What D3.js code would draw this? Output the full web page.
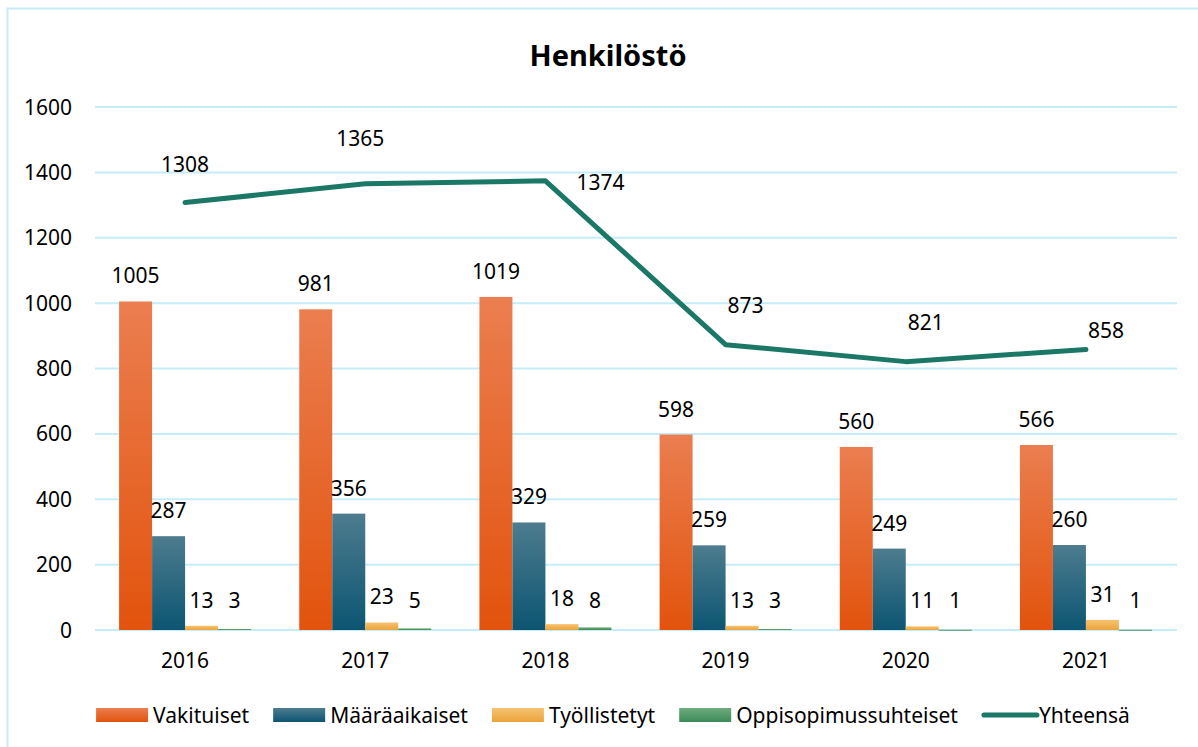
<html>
<head>
<meta charset="utf-8">
<script src="https://d3js.org/d3.v7.min.js"></script>
<style>
body { margin: 0; background: #fff; }
text { font-family: "Noto Sans", sans-serif; fill: #000; }
.grid line { stroke: #c5ecf9; stroke-width: 2; }
</style>
</head>
<body>
<svg width="1198" height="747"></svg>
<script>
// data
var years = ["2016", "2017", "2018", "2019", "2020", "2021"];
var vakituiset = [1005, 981, 1019, 598, 560, 566];
var maaraaikaiset = [287, 356, 329, 259, 249, 260];
var tyollistetyt = [13, 23, 18, 13, 11, 31];
var oppisopimus = [3, 5, 8, 3, 1, 1];
var yhteensa = [1308, 1365, 1374, 873, 821, 858];
var yTicks = [0, 200, 400, 600, 800, 1000, 1200, 1400, 1600];
var barNames = ["Vakituiset", "Määräaikaiset", "Työllistetyt", "Oppisopimussuhteiset"];
var lineName = "Yhteensä";
var totalLabelPlace = ["above", "high", "right", "aboveRight", "aboveRight", "upRight"];

var barSeries = [vakituiset, maaraaikaiset, tyollistetyt, oppisopimus];
var gradColors = [["#eb7e50", "#e2530d"], ["#4d7c8e", "#0c5572"], ["#f6c372", "#eba33c"], ["#6eab7e", "#3d8a58"]];
var lineColor = "#1b7866";

var svg = d3.select("svg");

// gradients
var defs = svg.append("defs");
gradColors.forEach(function(c, i) {
  var g = defs.append("linearGradient").attr("id", "g" + i)
    .attr("x1", 0).attr("y1", 0).attr("x2", 0).attr("y2", 1);
  g.append("stop").attr("offset", "0%").attr("stop-color", c[0]);
  g.append("stop").attr("offset", "100%").attr("stop-color", c[1]);
});

// chart border
svg.append("rect").attr("x", 7.5).attr("y", 8.5).attr("width", 1220).attr("height", 760)
  .attr("fill", "none").attr("stroke", "#c5ecf9").attr("stroke-width", 2);

var x = d3.scaleBand().domain(years).range([95, 1176]);
var x1 = d3.scaleBand().domain(d3.range(barSeries.length)).range([0, x.bandwidth()]).paddingOuter(0.73);
var y = d3.scaleLinear().domain([0, 1600]).range([630, 107]);

// title
svg.append("text").attr("x", 608).attr("y", 66).attr("text-anchor", "middle")
  .style("font-size", "29px").style("font-weight", "bold").text("Henkilöstö");

// grid
svg.append("g").attr("class", "grid").selectAll("line").data(yTicks).enter().append("line")
  .attr("x1", 95).attr("x2", 1177)
  .attr("y1", function(d) { return y(d); }).attr("y2", function(d) { return y(d); });

// y axis labels
svg.append("g").selectAll("text").data(yTicks).enter().append("text")
  .attr("x", 72).attr("y", function(d) { return y(d); }).attr("dy", "0.36em")
  .attr("text-anchor", "end").style("font-size", "21px").text(function(d) { return d; });

// x axis labels
svg.append("g").selectAll("text").data(years).enter().append("text")
  .attr("x", function(d) { return x(d) + x.bandwidth() / 2; }).attr("y", 668)
  .attr("text-anchor", "middle").style("font-size", "21px").text(function(d) { return d; });

// bars
barSeries.forEach(function(vals, s) {
  var g = svg.append("g");
  g.selectAll("rect").data(vals).enter().append("rect")
    .attr("x", function(d, i) { return x(years[i]) + x1(s); })
    .attr("width", x1.bandwidth())
    .attr("y", function(d) { return y(d); })
    .attr("height", function(d) { return Math.max(1, y(0) - y(d)); })
    .attr("fill", "url(#g" + s + ")");
  g.selectAll("text").data(vals).enter().append("text")
    .attr("x", function(d, i) { return x(years[i]) + x1(s) + x1.bandwidth() / 2; })
    .attr("y", function(d) { return Math.min(y(d), y(0) - 4) - 18; })
    .attr("text-anchor", "middle").style("font-size", "21px").text(function(d) { return d; });
});

// total line
var line = d3.line()
  .x(function(d, i) { return x(years[i]) + x.bandwidth() / 2; })
  .y(function(d) { return y(d); });
svg.append("path").datum(yhteensa).attr("d", line)
  .attr("fill", "none").attr("stroke", lineColor).attr("stroke-width", 5)
  .attr("stroke-linejoin", "round").attr("stroke-linecap", "round");

var place = { above: [0, -30], high: [-5, -38], aboveRight: [20, -32], upRight: [20, -12], right: [55, 9] };
svg.append("g").selectAll("text").data(yhteensa).enter().append("text")
  .attr("x", function(d, i) { return x(years[i]) + x.bandwidth() / 2 + place[totalLabelPlace[i]][0]; })
  .attr("y", function(d, i) { return y(d) + place[totalLabelPlace[i]][1]; })
  .attr("text-anchor", "middle").style("font-size", "21px").text(function(d) { return d; });

// legend
var legendItems = barNames.map(function(n, i) { return { name: n, type: "bar", idx: i }; })
  .concat([{ name: lineName, type: "line" }]);
var lg = svg.append("g");
var cx = 0;
legendItems.forEach(function(it, i) {
  var item = lg.append("g").attr("transform", "translate(" + cx + ",0)");
  if (it.type === "bar") {
    item.append("rect").attr("x", 0).attr("y", -7).attr("width", 52).attr("height", 14)
      .attr("fill", "url(#g" + it.idx + ")");
  } else {
    item.append("line").attr("x1", 2).attr("x2", 55).attr("y1", 0).attr("y2", 0)
      .attr("stroke", lineColor).attr("stroke-width", 5).attr("stroke-linecap", "round");
  }
  var t = item.append("text").attr("x", 57).attr("y", 0).attr("dy", "0.36em")
    .style("font-size", "21px").text(it.name);
  cx += 57 + t.node().getComputedTextLength() + 24;
});
var lw = cx - 24;
lg.attr("transform", "translate(" + (613 - lw / 2) + ",715)");
</script>
</body>
</html>
